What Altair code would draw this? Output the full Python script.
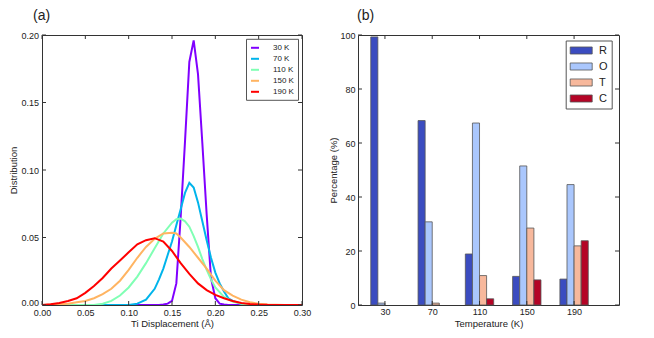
import altair as alt
import pandas as pd

FONT = "Liberation Sans"
INK = "#222222"

# ---------------- panel (a): Ti displacement distributions ----------------
temps_a = ["30 K", "70 K", "110 K", "150 K", "190 K"]
colors_a = ["#8000ff", "#00b4eb", "#80ffb4", "#ffb462", "#ff0000"]

x_30 = [0.00, 0.135, 0.14, 0.145, 0.15, 0.155, 0.16, 0.165, 0.17, 0.175, 0.18,
        0.185, 0.19, 0.195, 0.20, 0.205, 0.21, 0.215, 0.30]
y_30 = [0.0, 0.0, 0.0003, 0.001, 0.003, 0.016, 0.065, 0.121, 0.180, 0.196, 0.171,
        0.120, 0.067, 0.020, 0.005, 0.001, 0.0003, 0.0, 0.0]

x_70 = [0.00, 0.10, 0.11, 0.12, 0.13, 0.135, 0.14, 0.145, 0.15, 0.155, 0.16, 0.165,
        0.17, 0.175, 0.18, 0.185, 0.19, 0.195, 0.20, 0.205, 0.21, 0.215, 0.22,
        0.23, 0.24, 0.30]
y_70 = [0.0, 0.0, 0.001, 0.004, 0.012, 0.019, 0.027, 0.037, 0.047, 0.059, 0.071, 0.083,
        0.0905, 0.087, 0.076, 0.062, 0.048, 0.035, 0.024, 0.016, 0.010, 0.005, 0.003,
        0.001, 0.0, 0.0]

x_110 = [0.00, 0.06, 0.07, 0.08, 0.09, 0.10, 0.11, 0.12, 0.13, 0.14, 0.15, 0.155,
         0.16, 0.165, 0.17, 0.175, 0.18, 0.185, 0.19, 0.195, 0.20, 0.21, 0.22,
         0.23, 0.24, 0.30]
y_110 = [0.0, 0.0, 0.001, 0.003, 0.007, 0.013, 0.021, 0.031, 0.042, 0.053, 0.061, 0.0635,
         0.064, 0.062, 0.058, 0.051, 0.043, 0.034, 0.026, 0.019, 0.013, 0.006, 0.0025,
         0.001, 0.0, 0.0]

x_150 = [0.00, 0.02, 0.03, 0.04, 0.05, 0.06, 0.07, 0.08, 0.09, 0.10, 0.11, 0.12, 0.13,
         0.14, 0.15, 0.155, 0.16, 0.17, 0.18, 0.19, 0.20, 0.21, 0.22, 0.23, 0.24,
         0.25, 0.26, 0.28, 0.30]
y_150 = [0.0, 0.0005, 0.001, 0.002, 0.003, 0.005, 0.008, 0.012, 0.018, 0.026, 0.035,
         0.043, 0.049, 0.053, 0.0535, 0.053, 0.050, 0.043, 0.035, 0.027, 0.018, 0.011,
         0.007, 0.004, 0.002, 0.001, 0.0003, 0.0, 0.0]

x_190 = [0.00, 0.01, 0.02, 0.03, 0.04, 0.05, 0.06, 0.07, 0.08, 0.09, 0.10, 0.11, 0.12,
         0.13, 0.14, 0.15, 0.16, 0.17, 0.18, 0.19, 0.20, 0.21, 0.22, 0.23, 0.24,
         0.25, 0.26, 0.30]
y_190 = [0.0, 0.0005, 0.0015, 0.003, 0.005, 0.009, 0.014, 0.020, 0.027, 0.033, 0.039,
         0.045, 0.048, 0.0495, 0.047, 0.040, 0.031, 0.023, 0.016, 0.011, 0.0075, 0.005,
         0.003, 0.0015, 0.0007, 0.0003, 0.0001, 0.0]

xticks_a = [0.00, 0.05, 0.10, 0.15, 0.20, 0.25, 0.30]
yticks_a = [0.00, 0.05, 0.10, 0.15, 0.20]

# ---------------- panel (b): phase percentages ----------------
temps_b = ["30", "70", "110", "150", "190"]
phases = ["R", "O", "T", "C"]
colors_b = ["#3b4cc0", "#aac7fd", "#f7b89c", "#b40426"]
pct_R = [99.3, 68.3, 18.9, 10.6, 9.6]
pct_O = [0.7, 30.8, 67.4, 51.5, 44.6]
pct_T = [0.0, 0.7, 10.9, 28.5, 21.9]
pct_C = [0.0, 0.0, 2.3, 9.3, 23.8]
yticks_b = [0, 20, 40, 60, 80, 100]

# ---------------- tables ----------------
curves = [(x_30, y_30), (x_70, y_70), (x_110, y_110), (x_150, y_150), (x_190, y_190)]
rows = []
for t, (xs, ys) in zip(temps_a, curves):
    for xv, yv in zip(xs, ys):
        rows.append({"temp": t, "disp": xv, "dist": yv})
df_a = pd.DataFrame(rows)

rows_b = []
for k, (ph, vals) in enumerate(zip(phases, [pct_R, pct_O, pct_T, pct_C])):
    for i, v in enumerate(vals):
        rows_b.append({"idx": i, "temp": temps_b[i], "phase": ph, "k": k, "pct": v})
df_b = pd.DataFrame(rows_b)

W_A, H_A = 260, 270
W_B, H_B = 261, 270
TICK = 4

axis_common = dict(ticks=False, domain=False, grid=False, labelFont=FONT, titleFont=FONT,
                   labelColor=INK, titleColor=INK, labelFontSize=9, titleFontSize=9.5,
                   titleFontWeight="normal", labelFlush=False)


def inward_ticks(xvals, yvals, xfield, yfield, xscale, yscale, xaxis, yaxis, w, h):
    dx = pd.DataFrame({xfield: xvals})
    dy = pd.DataFrame({yfield: yvals})
    rule = dict(color="#333333", strokeWidth=1)
    bot = alt.Chart(dx).mark_rule(**rule).encode(
        x=alt.X(xfield + ":Q", scale=xscale, axis=xaxis), y=alt.value(h), y2=alt.value(h - TICK))
    top = alt.Chart(dx).mark_rule(**rule).encode(
        x=alt.X(xfield + ":Q", scale=xscale, axis=xaxis), y=alt.value(0), y2=alt.value(TICK))
    left = alt.Chart(dy).mark_rule(**rule).encode(
        y=alt.Y(yfield + ":Q", scale=yscale, axis=yaxis), x=alt.value(0), x2=alt.value(TICK))
    right = alt.Chart(dy).mark_rule(**rule).encode(
        y=alt.Y(yfield + ":Q", scale=yscale, axis=yaxis), x=alt.value(w), x2=alt.value(w - TICK))
    return [bot, top, left, right]


# ---- panel (a) chart
xs_a = alt.Scale(domain=[0, 0.3], nice=False, zero=False)
ys_a = alt.Scale(domain=[0, 0.2], nice=False)
xaxis_a = alt.Axis(values=xticks_a, format=".2f", title="Ti Displacement (Å)",
                   labelPadding=3, titlePadding=1.5, **axis_common)
yaxis_a = alt.Axis(values=yticks_a, format=".2f", title="Distribution",
                   labelPadding=3.5, titlePadding=2,
                   labelOffset={"condition": {"test": "datum.value == 0", "value": -3}, "value": 0},
                   **axis_common)
leg_a = alt.Legend(title=None, orient="none", legendX=204, legendY=3.8, symbolType="stroke",
                   symbolSize=64, symbolStrokeWidth=2, labelFontSize=8, labelFont=FONT,
                   labelColor=INK, labelOffset=13, padding=4, rowPadding=2,
                   fillColor="white", strokeColor="#555555", cornerRadius=0)
line_layers = []
for t in temps_a:
    line_layers.append(
        alt.Chart(df_a).transform_filter(alt.datum.temp == t).mark_line(strokeWidth=2, clip=True).encode(
            x=alt.X("disp:Q", scale=xs_a, axis=xaxis_a),
            y=alt.Y("dist:Q", scale=ys_a, axis=yaxis_a),
            color=alt.Color("temp:N", scale=alt.Scale(domain=temps_a, range=colors_a), legend=leg_a),
        )
    )
panel_a = alt.layer(
    *line_layers,
    *inward_ticks(xticks_a, yticks_a, "disp", "dist", xs_a, ys_a, xaxis_a, yaxis_a, W_A, H_A),
).properties(
    width=W_A, height=H_A,
    title=alt.TitleParams("(a)", anchor="start", frame="group", dx=-9, offset=8.5, fontSize=14,
                          font=FONT, fontWeight="normal", color=INK),
)

# ---- panel (b) chart
xs_b = alt.Scale(domain=[-0.57, 4.95], nice=False, zero=False)
ys_b = alt.Scale(domain=[0, 100], nice=False)
label_array = "[" + ",".join("'" + t + "'" for t in temps_b) + "]"
xaxis_b = alt.Axis(values=list(range(len(temps_b))), labelExpr=label_array + "[datum.value]",
                   title="Temperature (K)", labelPadding=2.5, titlePadding=1.5, **axis_common)
yaxis_b = alt.Axis(values=yticks_b, title="Percentage (%)", labelPadding=3, titlePadding=1.5,
                   **axis_common)
leg_b = alt.Legend(title=None, orient="none", legendX=207.7, legendY=5.5,
                   symbolType="M-1,-0.64H3V0.64H-1Z", symbolSize=121,
                   symbolStrokeColor="#555555", symbolStrokeWidth=0.8, symbolOpacity=1,
                   labelFontSize=11, labelFont=FONT, labelColor=INK, labelOffset=17.4,
                   labelExpr="datum.label + '  '",
                   padding=4, rowPadding=4, fillColor="white", strokeColor="#555555",
                   cornerRadius=0)
bars = alt.Chart(df_b).transform_filter(alt.datum.pct > 0).transform_calculate(
    x0="datum.idx + (datum.k - 2) * 0.15",
    x1="datum.idx + (datum.k - 1) * 0.15",
).mark_bar(stroke="#555555", strokeWidth=0.8, opacity=1).encode(
    x=alt.X("x0:Q", scale=xs_b, axis=xaxis_b),
    x2="x1:Q",
    y=alt.Y("pct:Q", scale=ys_b, stack=None, axis=yaxis_b),
    y2=alt.datum(0),
    color=alt.Color("phase:N", scale=alt.Scale(domain=phases, range=colors_b), legend=leg_b),
)
panel_b = alt.layer(
    bars,
    *inward_ticks(list(range(len(temps_b))), yticks_b, "x0", "pct", xs_b, ys_b, xaxis_b, yaxis_b, W_B, H_B),
).properties(
    width=W_B, height=H_B,
    title=alt.TitleParams("(b)", anchor="start", frame="group", dx=-1, offset=8.5, fontSize=14,
                          font=FONT, fontWeight="normal", color=INK),
)

chart = alt.hconcat(panel_a, panel_b, spacing=15).properties(padding=0).resolve_scale(
    color="independent"
).configure(font=FONT).configure_view(stroke="#333333", strokeWidth=1)

chart.save("out.html", embed_options={"renderer": "svg", "actions": False})
